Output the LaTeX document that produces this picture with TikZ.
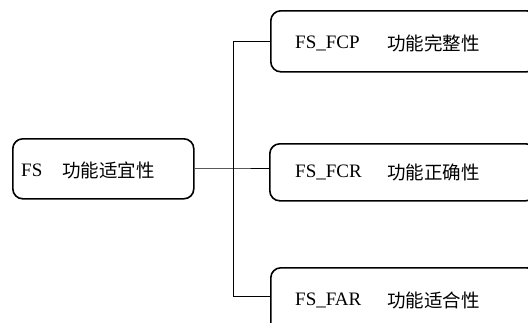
\documentclass[tikz,border=0pt]{standalone}
\usepackage{fontspec}
\setmainfont{Liberation Serif}
\newfontfamily\cjk{Noto Sans CJK SC}
\begin{document}
\begin{tikzpicture}[x=1pt,y=-1pt,
  box/.style={draw=black, line width=1.6pt, rounded corners=10pt, inner sep=0pt},
  conn/.style={draw=black, line width=1pt},
  lat/.style={inner sep=0pt, anchor=west, font=\fontsize{19}{22}\selectfont},
  zh/.style={inner sep=0pt, anchor=west, font=\fontsize{18.5}{22}\selectfont\cjk}]
\useasboundingbox (0,0) rectangle (528,322);
\clip (0,0) rectangle (528,322);
% boxes
\node[box, anchor=north west, minimum width=181pt, minimum height=60pt] (fs) at (12,138) {};
\node[box, anchor=north west, minimum width=266pt, minimum height=61pt] (fcp) at (270,10) {};
\node[box, anchor=north west, minimum width=266pt, minimum height=57pt] (fcr) at (269,143) {};
\node[box, anchor=north west, minimum width=266pt, minimum height=70pt] (far) at (270,267) {};
% texts
\node[lat] (t0a) at (21,170) {FS};
\node[zh] (t0b) at (62,170) {功能适宜性};
\node[lat] (t1a) at (295,43) {FS\_FCP};
\node[zh] (t1b) at (387,43) {功能完整性};
\node[lat] (t2a) at (295,172) {FS\_FCR};
\node[zh] (t2b) at (387,172) {功能正确性};
\node[lat] (t3a) at (295,300) {FS\_FAR};
\node[zh] (t3b) at (387,300) {功能适合性};
% connectors
\coordinate (j) at (233,168);
\coordinate (jt) at (233,41);
\coordinate (jb) at (233,296);
\draw[conn] (fs.east |- j) -- (j) -- (fcr.west |- j);
\draw[conn] (fcp.west |- jt) -- (jt) -- (jb) -- (far.west |- jb);
\end{tikzpicture}
\end{document}
